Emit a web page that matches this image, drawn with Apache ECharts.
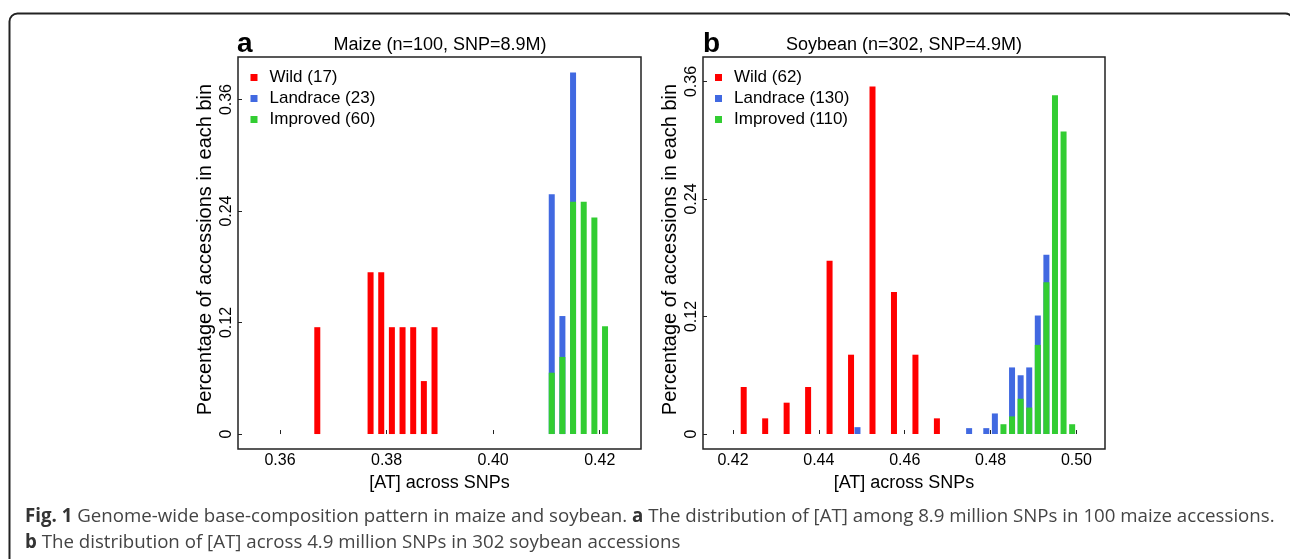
<!DOCTYPE html>
<html>
<head>
<meta charset="utf-8">
<script src="https://cdn.jsdelivr.net/npm/echarts@6/dist/echarts.min.js"></script>
<style>
html,body{margin:0;padding:0;background:#fff;}
#chart{width:1290px;height:559px;}
</style>
</head>
<body>
<div id="chart"></div>
<script>
// ---- Data ----
const maizeWildX = [0.367, 0.377, 0.379, 0.381, 0.383, 0.385, 0.387, 0.389];
const maizeWildY = [0.115, 0.174, 0.174, 0.115, 0.115, 0.115, 0.057, 0.115];
const maizeLandraceX = [0.411, 0.413, 0.415];
const maizeLandraceY = [0.258, 0.127, 0.389];
const maizeImprovedX = [0.411, 0.413, 0.415, 0.417, 0.419, 0.421];
const maizeImprovedY = [0.066, 0.083, 0.250, 0.250, 0.233, 0.116];

const soyWildX = [0.4225, 0.4275, 0.4325, 0.4375, 0.4425, 0.4475, 0.4525, 0.4575, 0.4625, 0.4675];
const soyWildY = [0.048, 0.016, 0.032, 0.048, 0.177, 0.081, 0.355, 0.145, 0.081, 0.016];
const soyLandraceX = [0.449, 0.475, 0.479, 0.481, 0.485, 0.487, 0.489, 0.491, 0.493];
const soyLandraceY = [0.007, 0.006, 0.006, 0.021, 0.068, 0.060, 0.068, 0.121, 0.183];
const soyImprovedX = [0.483, 0.485, 0.487, 0.489, 0.491, 0.493, 0.495, 0.497, 0.499];
const soyImprovedY = [0.010, 0.018, 0.036, 0.027, 0.091, 0.155, 0.346, 0.309, 0.010];

const maizeLegend = ['Wild (17)', 'Landrace (23)', 'Improved (60)'];
const soyLegend = ['Wild (62)', 'Landrace (130)', 'Improved (110)'];

const maizeXTicks = [0.36, 0.38, 0.40, 0.42];
const soyXTicks = [0.42, 0.44, 0.46, 0.48, 0.50];
const yTicks = [0, 0.12, 0.24, 0.36];

const panelTitles = ['Maize (n=100, SNP=8.9M)', 'Soybean (n=302, SNP=4.9M)'];
const panelLetters = ['a', 'b'];
const xAxisTitle = '[AT] across SNPs';
const yAxisTitle = 'Percentage of accessions in each bin';
const captionLine1 = ['Fig. 1', ' Genome-wide base-composition pattern in maize and soybean. ', 'a', ' The distribution of [AT] among 8.9 million SNPs in 100 maize accessions.'];
const captionLine2 = ['b', ' The distribution of [AT] across 4.9 million SNPs in 302 soybean accessions'];

// ---- Styling ----
const COLORS = ['#FF0000', '#4169E1', '#32CD32'];
const FONT = '"Liberation Sans", Arial, sans-serif';
const zip = (xs, ys) => xs.map((x, i) => [x, ys[i]]);

function xAxisFor(idx, min, max, ticks) {
  return {
    type: 'value', gridIndex: idx, min: min, max: max,
    splitLine: {show: false},
    axisLine: {show: false},
    axisTick: {show: true, inside: true, length: 4, customValues: ticks, lineStyle: {color: '#222', width: 1}},
    axisLabel: {customValues: ticks, margin: 4, color: '#000', fontFamily: FONT, fontSize: 16,
      formatter: v => v.toFixed(2)},
    name: xAxisTitle, nameLocation: 'middle', nameGap: 22,
    nameTextStyle: {color: '#000', fontFamily: FONT, fontSize: 18}
  };
}
function yAxisFor(idx, min, max) {
  return {
    type: 'value', gridIndex: idx, min: min, max: max,
    splitLine: {show: false},
    axisLine: {show: false},
    axisTick: {show: true, inside: true, length: 4, customValues: yTicks, lineStyle: {color: '#222', width: 1}},
    axisLabel: {customValues: yTicks, rotate: 90, margin: 3, color: '#000', fontFamily: FONT, fontSize: 16,
      formatter: v => v === 0 ? '0' : v.toFixed(2)},
    name: yAxisTitle, nameLocation: 'middle', nameRotate: 90, nameGap: 23,
    nameTextStyle: {color: '#000', fontFamily: FONT, fontSize: 20, padding: [0, 0, 0, 7]}
  };
}
function barSeries(name, idx, xs, ys, color) {
  return {
    type: 'bar', name: name, xAxisIndex: idx, yAxisIndex: idx,
    data: zip(xs, ys), barWidth: 6, barGap: '-100%',
    itemStyle: {color: color}, emphasis: {disabled: true}, animation: false
  };
}
function legendFor(names, left) {
  return {
    data: names, orient: 'vertical', left: left, top: 67, padding: 0,
    itemWidth: 7, itemHeight: 7, itemGap: 0, icon: 'rect', selectedMode: false,
    textStyle: {fontFamily: FONT, fontSize: 17, color: '#000', lineHeight: 21, padding: [0, 0, 0, 7]}
  };
}

const chart = echarts.init(document.getElementById('chart'), null, {renderer: 'canvas'});
const option = {
  backgroundColor: '#fff',
  animation: false,
  grid: [
    {left: 238, top: 57, width: 403, height: 392, show: true, borderColor: '#222', borderWidth: 1.5, backgroundColor: 'transparent'},
    {left: 703, top: 57, width: 402, height: 392, show: true, borderColor: '#222', borderWidth: 1.5, backgroundColor: 'transparent'}
  ],
  xAxis: [
    xAxisFor(0, 0.35212, 0.42775, maizeXTicks),
    xAxisFor(1, 0.41302, 0.50665, soyXTicks)
  ],
  yAxis: [
    yAxisFor(0, -0.0161, 0.4058),
    yAxisFor(1, -0.0153, 0.3850)
  ],
  legend: [legendFor(maizeLegend, 250.5), legendFor(soyLegend, 715)],
  series: [
    barSeries(maizeLegend[0], 0, maizeWildX, maizeWildY, COLORS[0]),
    barSeries(maizeLegend[1], 0, maizeLandraceX, maizeLandraceY, COLORS[1]),
    barSeries(maizeLegend[2], 0, maizeImprovedX, maizeImprovedY, COLORS[2]),
    barSeries(soyLegend[0], 1, soyWildX, soyWildY, COLORS[0]),
    barSeries(soyLegend[1], 1, soyLandraceX, soyLandraceY, COLORS[1]),
    barSeries(soyLegend[2], 1, soyImprovedX, soyImprovedY, COLORS[2])
  ],
  graphic: [
    {type: 'rect', silent: true, shape: {x: 9.5, y: 13.5, width: 1284, height: 700, r: 8},
      style: {fill: 'none', stroke: '#222', lineWidth: 2}},
    {type: 'text', x: 237, y: 44, style: {text: panelLetters[0], font: 'bold 28px ' + FONT, fill: '#000', verticalAlign: 'middle'}},
    {type: 'text', x: 703, y: 44, style: {text: panelLetters[1], font: 'bold 28px ' + FONT, fill: '#000', verticalAlign: 'middle'}},
    {type: 'text', x: 440, y: 45, style: {text: panelTitles[0], font: '18px ' + FONT, fill: '#000', align: 'center', verticalAlign: 'middle'}},
    {type: 'text', x: 904, y: 45, style: {text: panelTitles[1], font: '18px ' + FONT, fill: '#000', align: 'center', verticalAlign: 'middle'}},
    {type: 'text', x: 25, y: 517, style: {
      text: '{b|' + captionLine1[0] + '}{r|' + captionLine1[1] + '}{b|' + captionLine1[2] + '}{r|' + captionLine1[3] + '}',
      verticalAlign: 'middle',
      rich: {
        b: {fontFamily: '"Open Sans"', fontWeight: 'bold', fontSize: 18.7, fill: '#333'},
        r: {fontFamily: '"Open Sans"', fontSize: 18.7, fill: '#444'}
      }}},
    {type: 'text', x: 25, y: 543, style: {
      text: '{b|' + captionLine2[0] + '}{r|' + captionLine2[1] + '}',
      verticalAlign: 'middle',
      rich: {
        b: {fontFamily: '"Open Sans"', fontWeight: 'bold', fontSize: 18.7, fill: '#333'},
        r: {fontFamily: '"Open Sans"', fontSize: 18.7, fill: '#444'}
      }}}
  ]
};
chart.setOption(option);
</script>
</body>
</html>
